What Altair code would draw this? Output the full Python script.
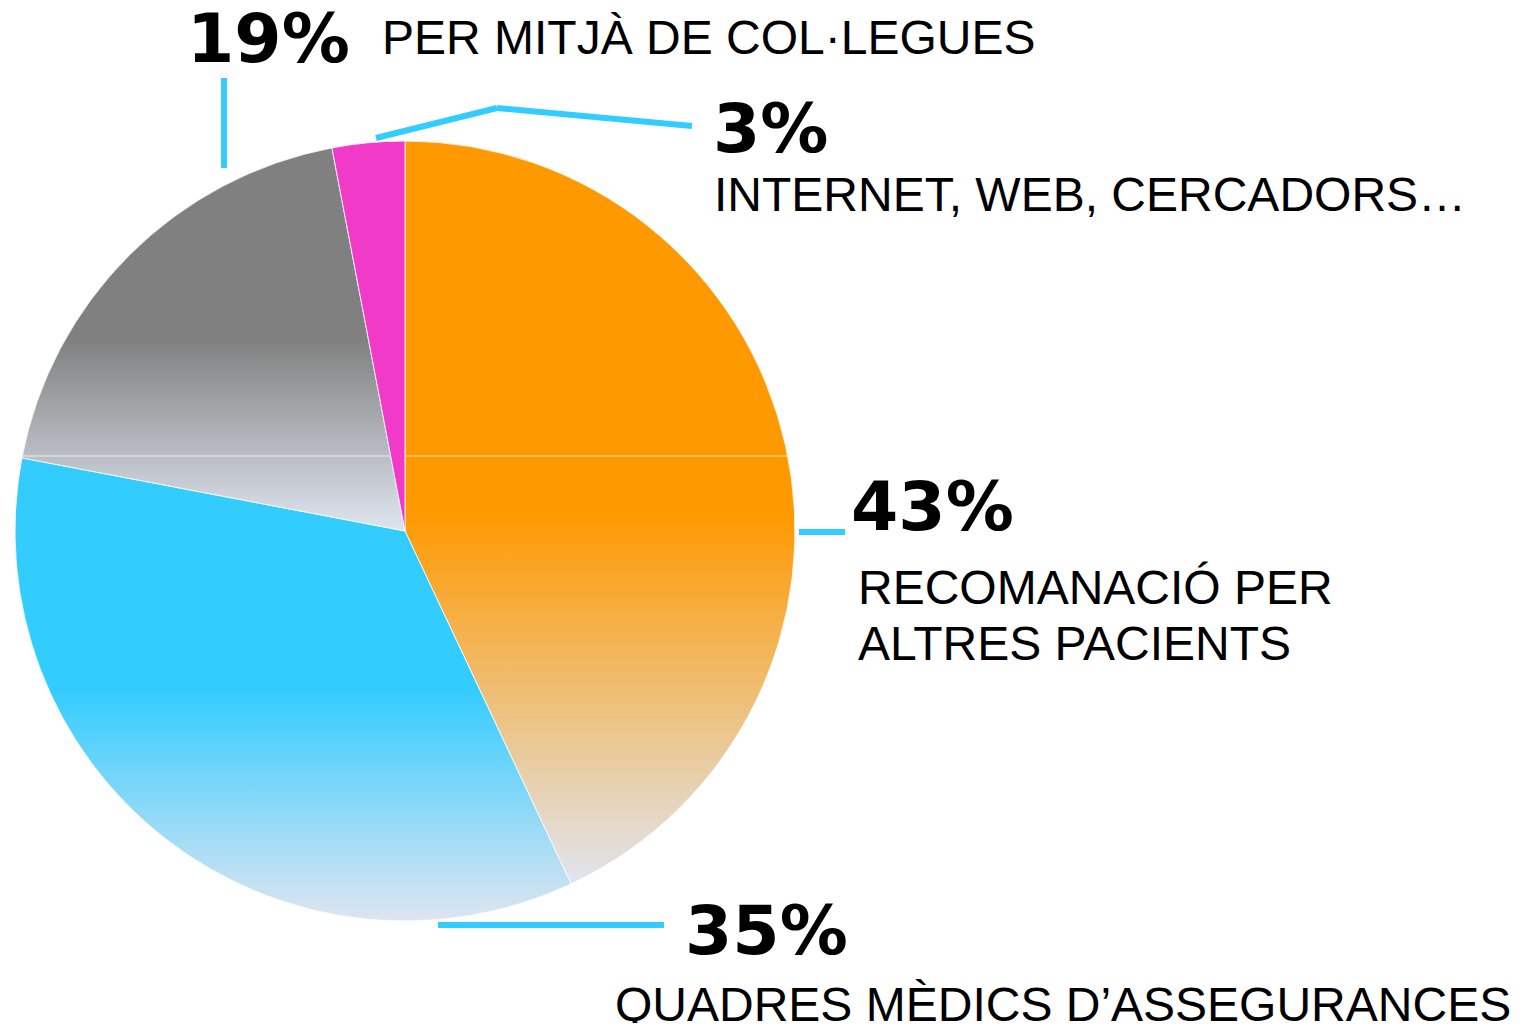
import altair as alt
import pandas as pd

categories = [
    "RECOMANACIÓ PER ALTRES PACIENTS",
    "QUADRES MÈDICS D’ASSEGURANCES",
    "PER MITJÀ DE COL·LEGUES",
    "INTERNET, WEB, CERCADORS…",
]
label_lines = [
    ["RECOMANACIÓ PER", "ALTRES PACIENTS"],
    ["QUADRES MÈDICS D’ASSEGURANCES"],
    ["PER MITJÀ DE COL·LEGUES"],
    ["INTERNET, WEB, CERCADORS…"],
]
values = [43, 35, 19, 3]
order = [0, 1, 2, 3]

df = pd.DataFrame({
    "category": categories,
    "lines": label_lines,
    "value": values,
    "order": order,
})

base_colors = ["#ff9900", "#33ccff", "#808080", "#f23ac8"]
light = "#dfe5f0"

W, H = 1509, 1015
CX, CY, R = 397, 523, 390

base = (
    alt.Chart(df)
    .transform_window(cum="sum(value)", sort=[alt.SortField("order")])
    .transform_calculate(start="datum.cum - datum.value", pct="datum.value + '%'")
)

theta_scale = alt.Scale(domain=[0, 100], range=[0, 6.283185307179586])


def grad(c, solid=True):
    if not solid:
        return c
    return {
        "gradient": "linear",
        "x1": 0, "y1": 0, "x2": 0, "y2": 1,
        "stops": [
            {"offset": 0, "color": c},
            {"offset": 0.5, "color": c},
            {"offset": 1, "color": light},
        ],
    }


layers = []
for i, c in enumerate(base_colors):
    fill = grad(c, solid=(i < 3))
    layers.append(
        base.transform_filter(alt.datum.order == i)
        .mark_arc(radius=R, fill=fill, stroke="#ffffff", strokeWidth=1, strokeOpacity=0.8)
        .encode(
            theta=alt.Theta("start:Q", scale=theta_scale),
            theta2="cum:Q",
            x=alt.value(CX),
            y=alt.value(CY),
        )
    )

# faint rendering seam visible in the original
for x1, x2 in [(14, 382), (398, 782)]:
    layers.append(
        base.transform_filter(alt.datum.order == 0)
        .mark_rule(color="#ffffff", strokeWidth=1, opacity=0.7)
        .encode(x=alt.value(x1), x2=alt.value(x2), y=alt.value(448), y2=alt.value(448))
    )

LINE = "#33ccff"
segments = [
    (2, 216, 70, 216, 160),
    (3, 368, 130, 489, 100),
    (3, 489, 100, 684, 118),
    (0, 791, 524, 837, 524),
    (1, 430, 917, 656, 917),
]
for idx, x1, y1, x2, y2 in segments:
    layers.append(
        base.transform_filter(alt.datum.order == idx)
        .mark_rule(color=LINE, strokeWidth=6)
        .encode(x=alt.value(x1), y=alt.value(y1), x2=alt.value(x2), y2=alt.value(y2))
    )

pct_pos = {2: (179, 54), 3: (705, 144), 0: (843, 522), 1: (677, 946)}
txt_pos = {2: (374, 46), 3: (706, 203), 0: (850, 596), 1: (607, 1013)}

for idx, (x, y) in pct_pos.items():
    layers.append(
        base.transform_filter(alt.datum.order == idx)
        .mark_text(align="left", baseline="alphabetic", font="DejaVu Sans",
                   fontWeight="bold", fontSize=68, color="#000000")
        .encode(x=alt.value(x), y=alt.value(y), text="pct:N")
    )

for idx, (x, y) in txt_pos.items():
    layers.append(
        base.transform_filter(alt.datum.order == idx)
        .mark_text(align="left", baseline="alphabetic", font="Liberation Sans",
                   fontSize=48, color="#000000", lineHeight=56)
        .encode(x=alt.value(x), y=alt.value(y), text="lines")
    )

chart = (
    alt.layer(*layers)
    .properties(width=W, height=H, autosize=alt.AutoSizeParams(type="none"), padding=0)
    .configure_view(stroke=None)
)

chart.save("out.html", embed_options={"renderer": "svg", "actions": False})
